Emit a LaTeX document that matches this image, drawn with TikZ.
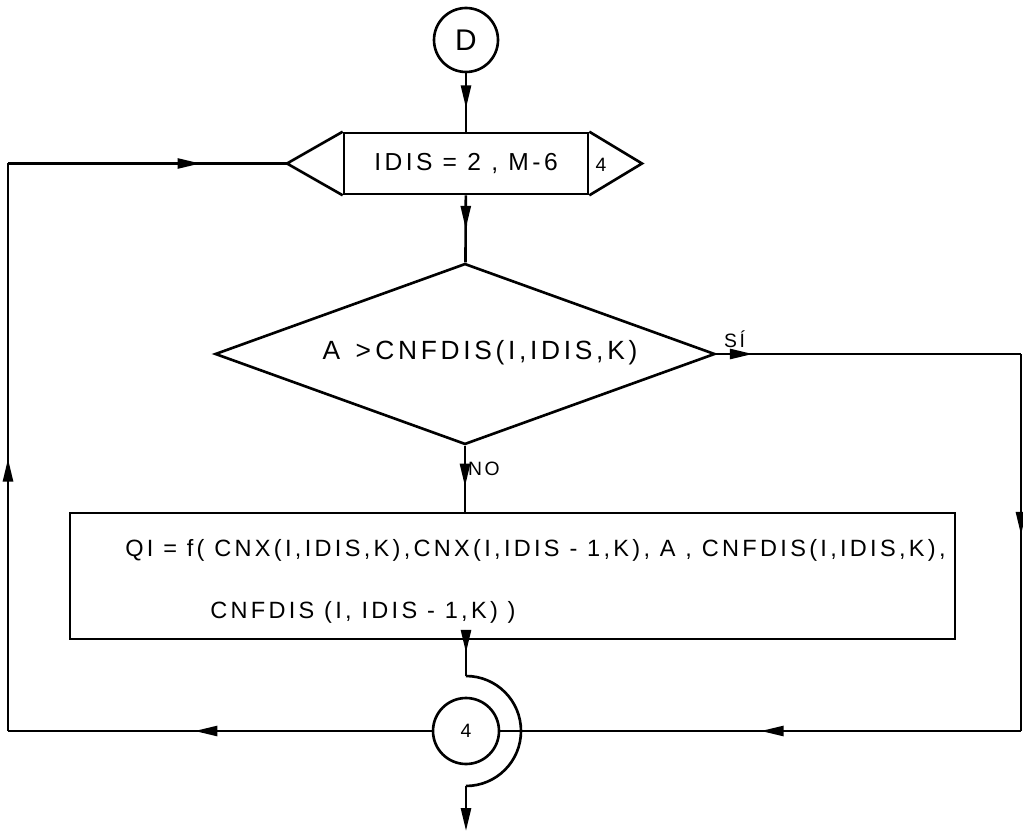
\documentclass[tikz,border=0pt]{standalone}
\usepackage{fontspec}
\newfontfamily\lettering[LetterSpace=14]{Liberation Sans}
\usetikzlibrary{positioning,arrows.meta,shapes.geometric}
\usetikzlibrary{decorations.markings}
\tikzset{
  every path/.style={line width=1.5pt},
  flow/.style={postaction={decorate},
    decoration={markings,mark=at position #1 with {\arrow{Triangle[length=4.6mm,width=2mm]}}}},
  conn/.style={circle, draw, inner sep=0pt, font=\lettering\fontsize{11}{13}\selectfont},
  loopbox/.style={rectangle, draw, minimum width=4.88cm, minimum height=1.22cm,
    inner sep=0pt, font=\lettering\fontsize{14}{16}\selectfont},
  decision/.style={diamond, draw, minimum width=10cm, minimum height=3.62cm,
    shape aspect=2.78, inner sep=0pt},
  process/.style={rectangle, draw, minimum width=17.7cm, minimum height=2.52cm, inner sep=0pt},
  tag/.style={inner sep=1pt, font=\lettering\fontsize{11}{13}\selectfont},
  stmt/.style={inner sep=0pt, anchor=west, font=\lettering\fontsize{13.4}{15}\selectfont}
}
\begin{document}
\begin{tikzpicture}[x=0.02cm, y=-0.02cm]
  \useasboundingbox (0,0) rectangle (1023,831);

  \node[conn, minimum size=1.28cm, font=\lettering\fontsize{17}{19}\selectfont] (start) at (466,40) {D};
  \node[loopbox] (loop) at (466,163.5) {IDIS = 2 , M-6};
  \coordinate (loopin) at (287,163.5);
  \coordinate (loopout) at (642,163.5);
  \draw (loop.north west) -- (loopin) -- (loop.south west);
  \draw (loop.north east) -- (loopout) -- (loop.south east);
  \node[tag] (count) at (601,165) {4};

  \node[decision] (test) at (465,354) {};
  \node[stmt, anchor=center, font=\lettering\fontsize{15}{17}\selectfont] (cond) at (480,353) {A \,>\,CNFDIS(I,IDIS,K)};
  \node[process] (qi) at (512.5,576) {};
  \node[stmt] (qione) at (124,550) {QI = f( CNX(I,IDIS,K),CNX(I,IDIS - 1,K), A , CNFDIS(I,IDIS,K),};
  \node[stmt] (qitwo) at (209,612) {CNFDIS (I, IDIS - 1,K) )};

  \node[conn, minimum size=1.32cm] (loopend) at (466,731) {4};

  \coordinate (lowright) at (1021,731);
  \coordinate (lowleft) at (8,731);
  \coordinate (upleft) at (8,163.5);
  \coordinate (arctop) at (466,676);
  \coordinate (arcbot) at (466,786);
  \coordinate (exit) at (466,831);

  % main line down
  \draw[flow=0.6] (start) -- (loop);
  \draw[flow=0.5] (loop) -- (test);
  \draw[flow=0.62] (test.south) -- node[tag, anchor=west, pos=0.35] (no) {NO} (test.south |- qi.north);

  % SI branch round the right side
  \draw[flow=0.12] (test.east) -- node[tag, anchor=south, pos=0.06, yshift=2pt] (si) {SÍ} (test.east -| lowright);
  \draw[flow=0.48] (test.east -| lowright) -- (lowright);
  \draw[flow=0.5] (lowright) -- (loopend);

  % back to the loop head
  \draw[flow=0.56] (loopend) -- (lowleft);
  \draw[flow=0.48] (lowleft) -- (upleft);
  \draw[flow=0.69] (upleft) -- (loopin);

  % exit under the loop end, jumping the return line
  \draw[flow=0.35] (qi.south -| arctop) -- (arctop);
  \draw (arctop) arc[start angle=90, end angle=-90, radius=1.1cm];
  \draw[-{Triangle[length=4.6mm,width=2mm]}] (arcbot) -- (exit);
\end{tikzpicture}
\end{document}
